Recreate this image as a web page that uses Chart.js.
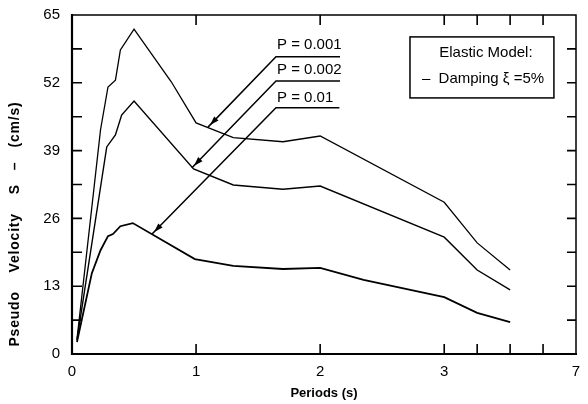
<!DOCTYPE html>
<html>
<head>
<meta charset="utf-8">
<script src="https://cdn.jsdelivr.net/npm/chart.js@4/dist/chart.umd.min.js"></script>
<style>
  html, body { margin: 0; padding: 0; background: #fff; }
  canvas { display: block; }
</style>
</head>
<body>
<canvas id="c" width="588" height="404"></canvas>
<script>
// ---- data (period in s, pseudo velocity in cm/s) ----
const seriesNames = ['P = 0.001', 'P = 0.002', 'P = 0.01'];

const periodsP001 = [0.04, 0.23, 0.29, 0.35, 0.39, 0.50, 0.80, 1.00, 1.30, 1.70, 2.00, 3.00, 4.00, 5.00];
const velocityP001 = [2.8, 43.0, 51.2, 52.5, 58.3, 62.3, 52.2, 44.3, 41.5, 40.7, 41.8, 29.1, 21.3, 16.1];

const periodsP002 = [0.04, 0.28, 0.35, 0.40, 0.50, 0.98, 1.30, 1.70, 2.00, 3.00, 4.00, 5.00];
const velocityP002 = [2.7, 39.7, 42.0, 45.8, 48.5, 35.5, 32.4, 31.6, 32.2, 22.4, 16.1, 12.3];

const periodsP01 = [0.04, 0.16, 0.23, 0.29, 0.33, 0.39, 0.49, 0.99, 1.30, 1.70, 2.00, 2.35, 3.00, 4.00, 5.00];
const velocityP01 = [2.3, 15.5, 19.9, 22.6, 23.0, 24.5, 25.1, 18.2, 16.9, 16.3, 16.5, 14.2, 10.9, 7.9, 6.1];

const xTickPeriods = [0, 1, 2, 3, 4, 5, 6, 7];
const xTickLabels = ['0', '1', '2', '3', '', '', '', '7'];
const yTickLabels = [0, 13, 26, 39, 52, 65];

const xTitle = 'Periods (s)';
const yTitle = 'Pseudo    Velocity    S   \u2013   (cm/s)';
const legendLines = ['Elastic Model:', '\u2013  Damping \u03be =5%'];

// the period axis is compressed beyond 3 s
const COMPRESS = 0.2655;
function u(T) { return T <= 3 ? T : 3 + (T - 3) * COMPRESS; }

function toPoints(periods, values) {
  return periods.map((T, i) => ({ x: u(T), y: values[i] }));
}

// annotation layout (data coordinates: period u-space, velocity)
const labelAnno = [
  { text: seriesNames[0], x0: 1.644, x1: 2.16, textY: 59.3, lineY: 57.0, tipX: 1.096, tipY: 43.5 },
  { text: seriesNames[1], x0: 1.644, x1: 2.16, textY: 54.5, lineY: 52.35, tipX: 0.967, tipY: 35.7 },
  { text: seriesNames[2], x0: 1.644, x1: 2.155, textY: 49.1, lineY: 47.2, tipX: 0.645, tipY: 23.0 }
];
const legendBox = { x0: 2.724, x1: 3.884, y0: 60.8, y1: 49.1, line1X: 3.336, line1Y: 57.7, line2X: 2.82, line2Y: 52.7 };

const FONT = "'Liberation Sans', Arial, Helvetica, sans-serif";

const drawPlugin = {
  id: 'drawPlugin',
  beforeDraw(chart) {
    const ctx = chart.ctx;
    ctx.save();
    ctx.fillStyle = '#fff';
    ctx.fillRect(0, 0, chart.width, chart.height);
    ctx.restore();
  },
  afterDraw(chart) {
    const ctx = chart.ctx;
    const xs = chart.scales.x, ys = chart.scales.y;
    const a = chart.chartArea;
    const px = v => xs.getPixelForValue(v);
    const py = v => ys.getPixelForValue(v);
    ctx.save();
    ctx.strokeStyle = '#000';
    ctx.fillStyle = '#000';
    ctx.lineCap = 'butt';

    // frame
    ctx.lineWidth = 1.5;
    ctx.beginPath();
    ctx.moveTo(a.left, a.top); ctx.lineTo(a.right, a.top); ctx.lineTo(a.right, a.bottom);
    ctx.stroke();
    ctx.lineWidth = 2.2;
    ctx.beginPath();
    ctx.moveTo(a.left, a.top - 1); ctx.lineTo(a.left, a.bottom); ctx.lineTo(a.right + 1, a.bottom);
    ctx.stroke();

    // inward ticks
    const TL = 10;
    ctx.lineWidth = 1.6;
    ctx.beginPath();
    ys.ticks.forEach(t => {
      const y = py(t.value);
      if (t.value <= ys.min || t.value >= ys.max) return;
      ctx.moveTo(a.left, y); ctx.lineTo(a.left + TL, y);
      ctx.moveTo(a.right, y); ctx.lineTo(a.right - TL + 1, y);
    });
    xs.ticks.forEach(t => {
      if (t.value <= xs.min + 1e-6 || t.value >= xs.max - 1e-6) return;
      const x = px(t.value);
      ctx.moveTo(x, a.bottom); ctx.lineTo(x, a.bottom - TL);
      ctx.moveTo(x, a.top); ctx.lineTo(x, a.top + TL);
    });
    ctx.stroke();

    // series labels with underlines and arrows
    ctx.font = '15px ' + FONT;
    ctx.textBaseline = 'middle';
    ctx.textAlign = 'left';
    labelAnno.forEach(l => {
      const x0 = px(l.x0), x1 = px(l.x1), ly = py(l.lineY);
      ctx.fillText(l.text, x0 + 1, py(l.textY));
      ctx.lineWidth = 1.5;
      ctx.beginPath();
      ctx.moveTo(x1, ly); ctx.lineTo(x0, ly);
      const tx = px(l.tipX), ty = py(l.tipY);
      ctx.lineTo(tx, ty);
      ctx.stroke();
      // arrowhead
      const ang = Math.atan2(ty - ly, tx - x0);
      const len = 9, w = 3;
      const bx = tx - Math.cos(ang) * 3, by = ty - Math.sin(ang) * 3;
      ctx.beginPath();
      ctx.moveTo(bx, by);
      ctx.lineTo(bx - Math.cos(ang) * len - Math.sin(ang) * w, by - Math.sin(ang) * len + Math.cos(ang) * w);
      ctx.lineTo(bx - Math.cos(ang) * len + Math.sin(ang) * w, by - Math.sin(ang) * len - Math.cos(ang) * w);
      ctx.closePath();
      ctx.fill();
    });

    // legend box
    const bx0 = px(legendBox.x0), bx1 = px(legendBox.x1), by0 = py(legendBox.y0), by1 = py(legendBox.y1);
    ctx.lineWidth = 1.5;
    ctx.strokeRect(bx0, by0, bx1 - bx0, by1 - by0);
    ctx.font = '15px ' + FONT;
    ctx.textAlign = 'center';
    ctx.fillText(legendLines[0], px(legendBox.line1X), py(legendBox.line1Y));
    ctx.textAlign = 'left';
    ctx.fillText(legendLines[1], px(legendBox.line2X), py(legendBox.line2Y));

    // y title
    ctx.save();
    ctx.font = 'bold 14px ' + FONT;
    ctx.translate(15, 224);
    ctx.rotate(-Math.PI / 2);
    ctx.textAlign = 'center';
    ctx.textBaseline = 'middle';
    try { ctx.letterSpacing = '0.8px'; } catch (e) {}
    ctx.fillText(yTitle, 0, 0);
    ctx.restore();

    ctx.restore();
  }
};

const lineStyle = (w) => ({ borderColor: '#000', borderWidth: w, pointRadius: 0, tension: 0, fill: false });

new Chart(document.getElementById('c'), {
  type: 'line',
  data: {
    datasets: [
      Object.assign({ label: seriesNames[0], data: toPoints(periodsP001, velocityP001) }, lineStyle(1.3)),
      Object.assign({ label: seriesNames[1], data: toPoints(periodsP002, velocityP002) }, lineStyle(1.4)),
      Object.assign({ label: seriesNames[2], data: toPoints(periodsP01, velocityP01) }, lineStyle(1.8))
    ]
  },
  options: {
    responsive: false,
    animation: false,
    devicePixelRatio: 1,
    layout: { padding: { left: 0, right: 12, top: 15, bottom: 0 } },
    plugins: { legend: { display: false }, tooltip: { enabled: false } },
    scales: {
      x: {
        type: 'linear',
        min: 0,
        max: u(7),
        grid: { display: false, drawTicks: false },
        border: { display: false },
        afterBuildTicks: s => { s.ticks = xTickPeriods.map(T => ({ value: u(T) })); },
        afterFit: s => { s.height = 50; s.paddingLeft = 0; s.paddingRight = 0; },
        ticks: {
          autoSkip: false, maxRotation: 0, padding: 9, color: '#000',
          font: { family: FONT, size: 15 },
          callback: (v, i) => xTickLabels[i]
        },
        title: { display: true, text: xTitle, color: '#000', font: { family: FONT, size: 13, weight: 'bold' }, padding: { top: 0, bottom: 3 } }
      },
      y: {
        type: 'linear',
        min: 0,
        max: 65,
        grid: { display: false, drawTicks: false },
        border: { display: false },
        afterFit: s => { s.width = 72; s.paddingTop = 0; s.paddingBottom = 0; },
        ticks: {
          stepSize: 6.5, padding: 12, color: '#000',
          font: { family: FONT, size: 15 },
          callback: v => (yTickLabels.includes(v) ? String(v) : '')
        }
      }
    }
  },
  plugins: [drawPlugin]
});
</script>
</body>
</html>
